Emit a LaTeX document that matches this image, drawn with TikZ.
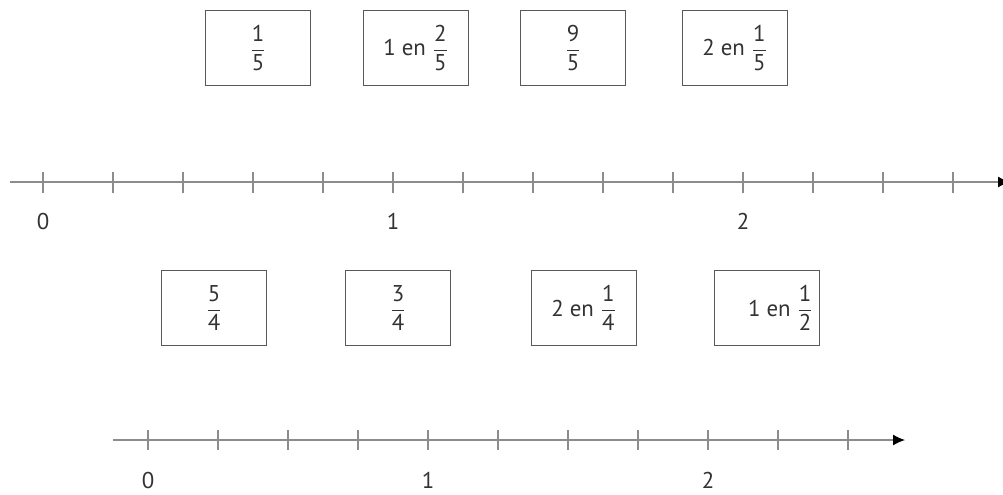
\documentclass[tikz,border=0pt]{standalone}
\usepackage{fontspec}
\setmainfont{PT Sans}
\usetikzlibrary{arrows.meta}
\newcommand{\fr}[2]{$\displaystyle\frac{\mbox{#1}}{\mbox{#2}}$}

\begin{document}
\begin{tikzpicture}[x=0.02cm, y=-0.02cm,
  carte/.style={draw=black!65, line width=0.6pt, minimum width=2.1cm, minimum height=1.5cm,
    inner sep=0pt, font=\fontsize{13}{15}\selectfont, text=black!80},
  axe/.style={black!45, line width=0.7pt},
  graduation/.style={black!45, line width=0.6pt},
  nombre/.style={font=\fontsize{13}{15}\selectfont, text=black!80}]
  \useasboundingbox (0,0) rectangle (1003,494);

  % droite graduée en cinquièmes
  \coordinate (A1) at (10,182);
  \coordinate (B1) at (1010,182);
  \draw[axe, -{Latex[length=2.4mm, width=2.2mm, black]}] (A1) -- (B1);
  \foreach \k in {0,...,13}
    \draw[graduation] ({43+70*\k},172) -- ({43+70*\k},193);
  \node[nombre] (z1) at (43,221) {0};
  \node[nombre] (u1) at (393,221) {1};
  \node[nombre] (d1) at (743,221) {2};

  % étiquettes du haut
  \node[carte] (c1) at (258,48) {\fr{1}{5}};
  \node[carte] (c2) at (416,48) {1 en \fr{2}{5}};
  \node[carte] (c3) at (573,48) {\fr{9}{5}};
  \node[carte] (c4) at (735,48) {2 en \fr{1}{5}};

  % droite graduée en quarts
  \coordinate (A2) at (113,440);
  \coordinate (B2) at (905,440);
  \draw[axe, -{Latex[length=2.4mm, width=2.2mm, black]}] (A2) -- (B2);
  \foreach \k in {0,...,10}
    \draw[graduation] ({148+70*\k},430) -- ({148+70*\k},450);
  \node[nombre] (z2) at (148,480) {0};
  \node[nombre] (u2) at (428,480) {1};
  \node[nombre] (d2) at (708,480) {2};

  % étiquettes du bas
  \node[carte] (e1) at (214,308) {\fr{5}{4}};
  \node[carte] (e2) at (398,308) {\fr{3}{4}};
  \node[carte] (e3) at (584,308) {2 en \fr{1}{4}};
  \node[carte] (e4) at (767,308) {\hspace{1.2em}1 en \fr{1}{2}};
\end{tikzpicture}
\end{document}
